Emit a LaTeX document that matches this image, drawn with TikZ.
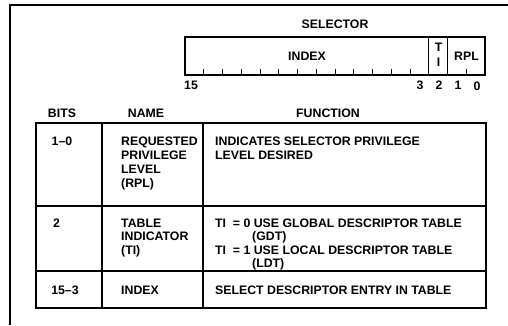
\documentclass[tikz,border=0pt]{standalone}
\usepackage{fontspec}
\setmainfont{Liberation Sans}
\begin{document}
\begin{tikzpicture}[x=1pt,y=-1pt,
  txt/.style={inner sep=0pt,anchor=base west,font=\bfseries\fontsize{12.3}{14}\selectfont},
  ctr/.style={inner sep=0pt,anchor=base,font=\bfseries\fontsize{12.3}{14}\selectfont},
  frameline/.style={line width=1.5pt},
  boxline/.style={line width=1.4pt},
  tabout/.style={line width=2pt},
  tabin/.style={line width=1.2pt},
  tick/.style={line width=1pt}]
\useasboundingbox (0,0) rectangle (508,325);
% frame
\draw[frameline] (10,325) -- (10,5) -- (508,5);
% selector
\node[ctr] (sel) at (335,28) {SELECTOR};
\draw[boxline] (185,37) rectangle (485,75);
\draw[boxline] (428.75,37) -- (428.75,75);
\draw[boxline] (447.5,37) -- (447.5,75);
\foreach \i in {1,...,12} \draw[tick] (185+\i*18.75,75) -- ++(0,-6);
\draw[tick] (466.25,75) -- ++(0,-6);
\node[ctr] (idx) at (307,60) {INDEX};
\node[ctr] (tiT) at (438.5,51) {T};
\node[ctr] (tiI) at (438.5,66) {I};
\node[ctr] (rpl) at (466.5,60) {RPL};
\node[ctr] (b15) at (191,89) {15};
\node[ctr] (b3) at (420,89) {3};
\node[ctr] (b2) at (439,89) {2};
\node[ctr] (b1) at (458,89) {1};
\node[ctr] (b0) at (477,90) {0};
% headers
\node[ctr] (hbits) at (62,117) {BITS};
\node[ctr] (hname) at (146,117) {NAME};
\node[ctr] (hfun) at (328,117) {FUNCTION};
% table
\draw[tabout] (36,123) rectangle (486,308);
\draw[tabin] (102,123) -- (102,308);
\draw[tabin] (203,123) -- (203,308);
\draw[tabin] (36,206) -- (486,206);
\draw[tabin] (36,271) -- (486,271);
% row 1
\node[ctr] (r1b) at (62,145) {1--0};
\node[txt] (r1n1) at (121,145) {REQUESTED};
\node[txt] (r1n2) at (121,159) {PRIVILEGE};
\node[txt] (r1n3) at (121,173) {LEVEL};
\node[txt] (r1n4) at (121,187) {(RPL)};
\node[txt] (r1f1) at (215,145) {INDICATES SELECTOR PRIVILEGE};
\node[txt] (r1f2) at (215,159) {LEVEL DESIRED};
% row 2
\node[txt] (r2b) at (53,227) {2};
\node[txt] (r2n1) at (121,227) {TABLE};
\node[txt] (r2n2) at (121,240.5) {INDICATOR};
\node[txt] (r2n3) at (121,254) {(TI)};
\node[txt] (r2f1) at (215,227) {TI\ \ = 0 USE GLOBAL DESCRIPTOR TABLE};
\node[txt] (r2f2) at (252,240.5) {(GDT)};
\node[txt] (r2f3) at (215,254) {TI\ \ = 1 USE LOCAL DESCRIPTOR TABLE};
\node[txt] (r2f4) at (252,267) {(LDT)};
% row 3
\node[ctr] (r3b) at (65,294) {15--3};
\node[txt] (r3n) at (121,294) {INDEX};
\node[txt] (r3f) at (215,294) {SELECT DESCRIPTOR ENTRY IN TABLE};
\end{tikzpicture}
\end{document}
